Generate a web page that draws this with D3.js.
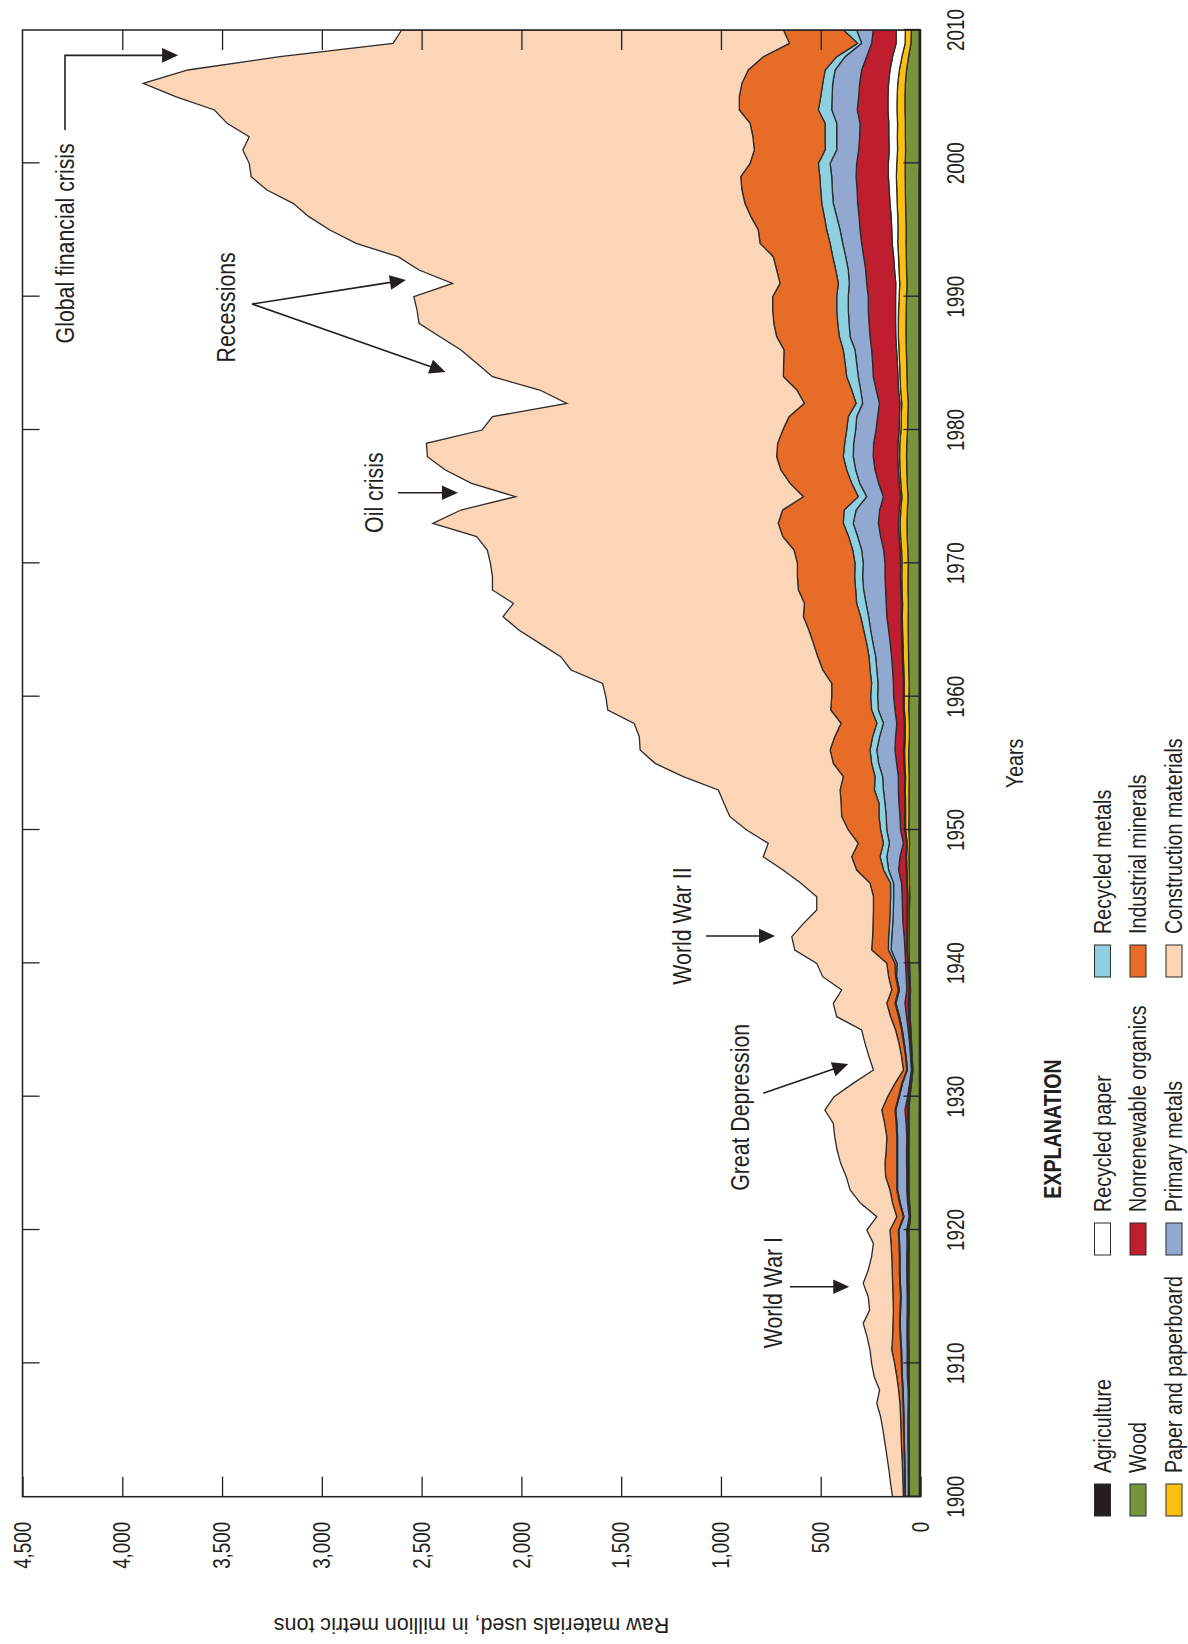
<!DOCTYPE html>
<html>
<head>
<meta charset="utf-8">
<script src="https://cdn.jsdelivr.net/npm/d3@7"></script>
<style>
  html, body { margin: 0; padding: 0; background: #ffffff; }
  svg { display: block; }
  text { font-family: "Liberation Sans", Arial, Helvetica, sans-serif; fill: #231f20; }
</style>
</head>
<body>
<svg id="chart" width="1188" height="1644"></svg>
<script>
// Raw materials used in the United States, 1900-2010, million metric tons (one value per year)
const firstYear = 1900;

const agriculture = [
  6,6,6,6,6,6,6,6,6,6, 6,6,6,6,6,6,6,6,6,6, 7,7,7,7,7,7,7,7,7,7, 6,6,6,6,6,6,6,6,6,6,
  8,8,8,8,8,8,8,8,8,8, 8,8,8,8,8,8,8,8,8,8, 7,7,7,7,7,7,7,7,7,7, 7,7,7,7,7,7,7,7,7,7,
  8,8,8,8,8,8,8,8,8,8, 8,8,8,8,8,8,8,8,8,8, 7,7,7,7,7,7,7,7,7,7,7];

const wood = [
  50,50,51,51,52,52,52,51,50,52, 52,52,53,53,51,51,52,52,51,50,
  51,43,48,51,50,51,51,50,50,51, 47,39,32,36,39,42,46,47,44,47,
  47,50,50,49,48,46,48,49,50,47, 51,50,50,50,49,51,51,48,48,51,
  51,50,52,53,54,55,55,54,56,56, 55,57,60,61,59,56,60,62,63,62,
  57,56,54,58,60,61,63,65,65,64, 62,60,62,63,65,64,66,67,68,69,
  70,68,69,69,71,71,69,63,53,41,39];

const paperAndPaperboard = [
  1,1,1,1,2,2,2,2,2,2, 2,2,3,3,3,3,3,3,3,3, 3,3,4,4,4,5,5,5,5,6, 5,5,4,4,5,5,6,6,6,6,
  7,8,8,8,8,9,10,11,12,11, 16,17,17,18,18,20,21,20,20,22,
  24,24,25,26,27,28,29,29,30,31, 31,31,33,34,33,30,32,34,35,35,
  33,33,32,34,35,36,37,38,38,38, 37,36,38,39,41,41,40,42,43,44,
  42,40,40,39,40,39,38,36,33,29,30];

const recycledPaper = [
  1,1,1,1,1,1,1,1,1,1, 1,1,1,1,1,1,1,1,1,1, 1,1,1,1,1,1,1,1,1,1, 1,1,1,1,1,1,1,1,1,1,
  2,2,2,2,3,3,3,3,3,3, 4,4,4,4,4,4,5,5,5,5, 5,5,5,6,6,6,6,6,6,7, 7,7,8,8,8,7,8,8,9,9,
  9,9,9,10,10,11,12,13,14,15, 18,20,22,25,28,31,33,36,38,40,
  42,42,43,44,45,46,46,47,47,45,46];

const nonrenewableOrganics = [
  3,3,3,3,2,2,2,2,3,5, 6,6,5,5,6,6,6,7,8,8, 7,3,5,6,7,6,6,6,9,13, 6,4,3,3,4,8,11,18,12,12,
  11,10,14,21,23,26,26,39,30,17, 21,24,29,31,32,37,43,44,38,42,
  48,50,51,53,58,64,72,76,76,77, 78,83,92,101,98,86,103,117,123,122,
  116,109,103,112,124,124,125,129,133,137, 137,146,145,150,153,159,161,162,161,162,
  159,153,146,144,154,147,145,142,130,123,115];

const primaryMetals = [
  15,16,16,17,18,19,20,23,25,25, 26,28,31,34,33,30,33,34,34,37,
  39,26,36,46,46,45,45,46,46,46, 41,35,20,22,26,29,35,45,37,48,
  43,69,62,51,46,43,40,50,66,70, 69,69,70,75,79,90,91,80,67,83,
  80,77,79,80,86,90,91,101,110,112, 109,110,115,126,118,84,95,97,100,100,
  102,105,84,78,75,80,83,100,100,100, 100,87,87,90,95,100,112,122,124,122,
  133,110,115,117,128,133,135,133,108,50,83];

const recycledMetals = [
  2,2,2,3,2,3,3,3,3,3, 3,3,3,3,3,3,3,3,3,3, 3,3,4,4,4,4,4,4,4,4, 4,4,3,3,4,4,5,5,5,5,
  10,14,16,16,16,15,15,25,34,30, 31,36,30,45,38,35,34,35,33,34,
  35,32,34,33,32,35,40,47,40,40, 41,45,45,50,60,42,40,45,50,45,
  45,42,33,45,58,58,59,54,57,58, 58,55,63,65,63,67,62,58,58,60,
  59,58,58,58,67,57,50,50,42,20,67];

const industrialMinerals = [
  8,9,10,11,13,13,14,15,20,25, 34,46,38,33,33,38,36,36,38,40,
  42,33,35,34,56,59,53,50,58,66, 55,34,17,20,23,30,40,41,33,35,
  41,84,80,83,84,86,103,135,142,126, 162,187,190,172,159,192,200,190,179,205,
  195,200,237,257,267,275,287,262,287,287, 289,294,330,326,308,275,309,330,334,336,
  320,297,259,275,317,308,297,314,320,321, 321,292,296,298,351,343,368,385,395,396,
  342,355,362,376,396,408,405,385,368,342,300];

const constructionMaterials = [
  54,62,68,75,82,90,100,116,95,113, 115,109,128,149,119,124,147,120,101,88,
  116,100,160,200,197,222,246,261,257,285, 268,210,150,163,170,170,270,268,251,330,
  351,385,405,348,284,284,346,369,443,451, 509,560,587,610,802,893,952,979,1037,1117,
  1132,1148,1261,1288,1371,1453,1505,1458,1533,1528, 1538,1537,1534,1731,1612,1442,1596,1681,1750,1760,
  1507,1486,1190,1288,1458,1538,1619,1687,1778,1782, 1798,1641,1792,1880,2024,2147,2215,2264,2380,2453,
  2510,2563,2524,2621,2630,2825,3000,2808,2422,1986,1913];

// Stack order, bottom to top, with legend labels and fills
const seriesNames = ["Agriculture", "Wood", "Paper and paperboard", "Recycled paper",
  "Nonrenewable organics", "Primary metals", "Recycled metals", "Industrial minerals",
  "Construction materials"];
const seriesValues = [agriculture, wood, paperAndPaperboard, recycledPaper,
  nonrenewableOrganics, primaryMetals, recycledMetals, industrialMinerals, constructionMaterials];
const seriesColors = ["#231f20", "#77933c", "#fdc010", "#ffffff",
  "#be1e2d", "#91a9d1", "#8ecfe0", "#e66c28", "#fbd5b5"];

const valueTicks = [0, 500, 1000, 1500, 2000, 2500, 3000, 3500, 4000, 4500];
const yearTicks = [1900, 1910, 1920, 1930, 1940, 1950, 1960, 1970, 1980, 1990, 2000, 2010];

// Event callouts: label centre and leader lines, given as [year, value]; the last point of each line carries the arrowhead
const callouts = [
  { label: "Global financial crisis", at: [1994.0, 4290], lines: [[[2002.5, 4287], [2008.1, 4287], [2008.1, 3720]]] },
  { label: "Recessions", at: [1989.2, 3483], lines: [[[1989.45, 3350], [1991.25, 2579]], [[1989.45, 3350], [1984.35, 2380]]] },
  { label: "Oil crisis", at: [1975.3, 2739], lines: [[[1975.3, 2618], [1975.3, 2318]]] },
  { label: "World War II", at: [1942.8, 1198], lines: [[[1942.05, 1075], [1942.05, 729]]] },
  { label: "Great Depression", at: [1929.2, 905], lines: [[[1930.25, 788], [1932.45, 362]]] },
  { label: "World War I", at: [1915.3, 742], lines: [[[1915.75, 654], [1915.75, 357]]] }
];

// ---------------------------------------------------------------------------
const W = 1188, H = 1644;
const NARROW = 0.82;   // horizontal squeeze that gives Liberation Sans a condensed cut
const svg = d3.select("#chart");

// The figure is laid out as an ordinary time chart and then turned a quarter turn
// counter-clockwise, so years run up the page and tonnage runs right to left.
const g = svg.append("g").attr("transform", `translate(0,${H}) rotate(-90)`);

const x = d3.scaleLinear().domain([1900, 2010]).range([147.3, 1614]);
const y = d3.scaleLinear().domain([0, 4500]).range([920.5, 22.5]);

// Condensed text placed at (px, py)
function narrowText(parent, px, py, str, size, anchor = "middle", weight = "normal") {
  return parent.append("text")
    .attr("transform", `translate(${px},${py}) scale(${NARROW},1)`)
    .attr("font-size", size)
    .attr("font-weight", weight)
    .attr("text-anchor", anchor)
    .attr("dominant-baseline", "central")
    .text(str);
}

const years = agriculture.map((_, i) => firstYear + i);
const rows = years.map((yr, i) => {
  const r = { year: yr };
  seriesNames.forEach((name, k) => { r[name] = seriesValues[k][i]; });
  return r;
});
const layers = d3.stack().keys(seriesNames)(rows);

g.append("clipPath").attr("id", "plotClip")
  .append("rect")
  .attr("x", x.range()[0]).attr("y", y.range()[1])
  .attr("width", x.range()[1] - x.range()[0])
  .attr("height", y.range()[0] - y.range()[1]);

const area = d3.area()
  .x(d => x(d.data.year))
  .y0(d => y(d[0]))
  .y1(d => y(d[1]));

g.append("g").attr("clip-path", "url(#plotClip)")
  .selectAll("path")
  .data(layers)
  .join("path")
  .attr("d", area)
  .attr("fill", (d, i) => seriesColors[i])
  .attr("stroke", "#2b2b2b")
  .attr("stroke-width", 1.3);

// Axes: ticks point inward on all four sides of the frame
const tickStyle = sel => {
  sel.select(".domain").remove();
  sel.selectAll(".tick line").attr("stroke", "#231f20").attr("stroke-width", 1.3);
  sel.selectAll(".tick text").remove();
};

g.append("g")
  .attr("transform", `translate(${x.range()[0]},0)`)
  .call(d3.axisLeft(y).tickValues(valueTicks).tickSizeInner(-20).tickSizeOuter(0))
  .call(tickStyle);
g.append("g")
  .attr("transform", `translate(${x.range()[1]},0)`)
  .call(d3.axisRight(y).tickValues(valueTicks.slice(1, -1)).tickSizeInner(-20).tickSizeOuter(0))
  .call(tickStyle);
g.append("g")
  .attr("transform", `translate(0,${y.range()[0]})`)
  .call(d3.axisBottom(x).tickValues(yearTicks).tickSizeInner(-17).tickSizeOuter(0))
  .call(tickStyle);
g.append("g")
  .attr("transform", `translate(0,${y.range()[1]})`)
  .call(d3.axisTop(x).tickValues(yearTicks.slice(1, -1)).tickSizeInner(-17).tickSizeOuter(0))
  .call(tickStyle);

// Tick labels
const fmt = d3.format(",");
const tickLabels = g.append("g");
valueTicks.forEach(v => narrowText(tickLabels, x.range()[0] - 25, y(v), fmt(v), 23, "end"));
yearTicks.forEach(yr => narrowText(tickLabels, x(yr), y.range()[0] + 35, String(yr), 23, "middle"));

// Frame
g.append("rect")
  .attr("x", x.range()[0]).attr("y", y.range()[1])
  .attr("width", x.range()[1] - x.range()[0])
  .attr("height", y.range()[0] - y.range()[1])
  .attr("fill", "none").attr("stroke", "#231f20").attr("stroke-width", 1.5);

// Axis titles
g.append("text")
  .attr("font-size", 21.5)
  .attr("text-anchor", "middle")
  .attr("dominant-baseline", "central")
  .attr("transform", `translate(19,${(y.range()[0] + y.range()[1]) / 2}) rotate(-90)`)
  .text("Raw materials used, in million metric tons");

narrowText(g, (x.range()[0] + x.range()[1]) / 2, 1015, "Years", 24);

// Callouts
const ann = g.append("g");
callouts.forEach(c => {
  narrowText(ann, x(c.at[0]), y(c.at[1]), c.label, 26);
  c.lines.forEach(pts => {
    const p = pts.map(([yr, v]) => [x(yr), y(v)]);
    const [ex, ey] = p[p.length - 1];
    const [sx, sy] = p[p.length - 2];
    const len = Math.hypot(ex - sx, ey - sy);
    const ux = (ex - sx) / len, uy = (ey - sy) / len;
    const headLen = 16, headHalf = 7.3;
    const bx = ex - ux * headLen, by = ey - uy * headLen;
    const linePts = p.slice(0, -1).concat([[bx + ux * 2, by + uy * 2]]);
    ann.append("path")
      .attr("d", d3.line()(linePts))
      .attr("fill", "none").attr("stroke", "#231f20").attr("stroke-width", 1.6);
    ann.append("path")
      .attr("d", d3.line()([[ex, ey], [bx - uy * headHalf, by + ux * headHalf], [bx + uy * headHalf, by - ux * headHalf]]) + "Z")
      .attr("fill", "#231f20");
  });
});

// Legend
const legend = g.append("g");
narrowText(legend, 515, 1053, "EXPLANATION", 24, "middle", "bold");

const groupStart = [128, 389, 667];
const rowCentre = [1102.5, 1138, 1174];
seriesNames.forEach((name, i) => {
  const gx = groupStart[Math.floor(i / 3)];
  const cy = rowCentre[i % 3];
  legend.append("rect")
    .attr("x", gx).attr("y", cy - 8)
    .attr("width", 32).attr("height", 16)
    .attr("fill", seriesColors[i])
    .attr("stroke", "#2b2b2b").attr("stroke-width", 1);
  narrowText(legend, gx + 43, cy, name, 24, "start");
});
</script>
</body>
</html>
